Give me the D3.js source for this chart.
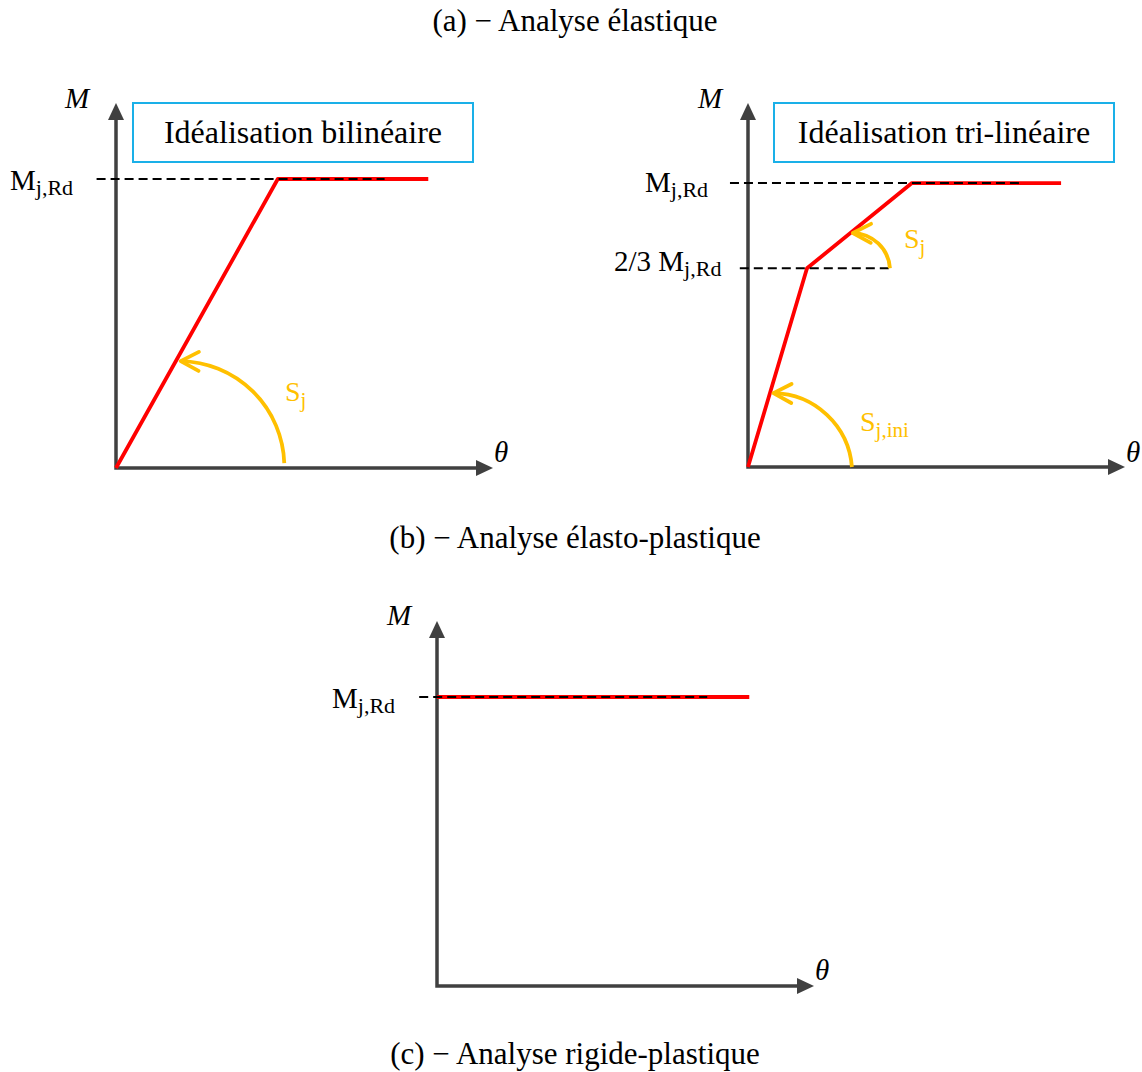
<!DOCTYPE html>
<html>
<head>
<meta charset="utf-8">
<script src="https://cdn.jsdelivr.net/npm/d3@7"></script>
<style>
  body { margin: 0; background: #fff; }
  svg { display: block; font-family: "Liberation Serif", "Times New Roman", serif; }
</style>
</head>
<body>
<svg id="viz" width="1142" height="1072"></svg>
<script>
// ---- data (theta and M in normalised units, M_j,Rd = 1) ----
var titles = ["(a) \u2212 Analyse élastique", "(b) \u2212 Analyse élasto-plastique", "(c) \u2212 Analyse rigide-plastique"];
var boxLabels = ["Idéalisation bilinéaire", "Idéalisation tri-linéaire", null];
var levelLabels = [["M", "j,Rd"], ["2/3 M", "j,Rd"]];

var bilinear = [[0, 0], [1, 1], [1.93, 1]];
var trilinear = [[0, 0], [0.36, 0.70], [1, 1], [1.91, 1]];
var rigidPlastic = [[0, 1], [1.93, 1]];

// dashed reference levels: [M, theta start, theta end]
var levelsA = [[1, -0.12, 1.66]];
var levelsB = [[1, -0.11, 1.66], [0.70, -0.05, 0.88]];
var levelsC = [[1, -0.11, 1.67]];

// stiffness arcs: [theta start, M start, theta end, M end, label, subscript]
var arcsA = [[1.04, 0.017, 0.40, 0.37, "S", "j"]];
var arcsB = [[0.866, 0.70, 0.64, 0.824, "S", "j"], [0.634, 0, 0.155, 0.26, "S", "j,ini"]];

// axis extents [theta max, M max]
var axisMax = [[2.33, 1.263], [2.30, 1.282], [2.33, 1.263]];

var svg = d3.select("#viz");
var axisColor = "#404040", red = "#ff0000", gold = "#ffc000", blue = "#1ab0e8";

svg.append("defs").append("marker")
	.attr("id", "chev")
	.attr("markerUnits", "userSpaceOnUse")
	.attr("orient", "auto")
	.attr("overflow", "visible")
	.attr("markerWidth", 24).attr("markerHeight", 24)
	.append("path")
	.attr("d", "M-18,-9.5 L0,0 L-18,9.5")
	.attr("fill", "none")
	.attr("stroke", gold)
	.attr("stroke-width", 3.8)
	.attr("stroke-linecap", "round")
	.attr("stroke-linejoin", "round");

var panels = [
	{ ox: 116, oy: 468, w: 377, h: 365, curve: bilinear, levels: levelsA, arcs: arcsA,
	  box: [133, 103, 340, 59], mLab: [65, 108], thLab: [494, 462],
	  lvlPos: [[10, 190]], arcLab: [[285, 401]] },
	{ ox: 748, oy: 467, w: 377, h: 364, curve: trilinear, levels: levelsB, arcs: arcsB,
	  box: [774, 103, 340, 59], mLab: [698, 108], thLab: [1126, 462],
	  lvlPos: [[645, 192], [614, 271]], arcLab: [[904, 248], [860, 431]] },
	{ ox: 437, oy: 986, w: 377, h: 365, curve: rigidPlastic, levels: levelsC, arcs: [],
	  box: null, mLab: [387, 625], thLab: [815, 980],
	  lvlPos: [[332, 708]], arcLab: [] }
];

var titleY = [31, 548, 1064];

svg.selectAll(".title")
	.data(titles)
	.enter().append("text")
	.attr("class", "title")
	.attr("x", 575)
	.attr("y", function(d, i) { return titleY[i]; })
	.attr("text-anchor", "middle")
	.attr("font-size", 31)
	.text(function(d) { return d; });

panels.forEach(function(p, i) {
	var g = svg.append("g");
	var x = d3.scaleLinear().domain([0, axisMax[i][0]]).range([p.ox, p.ox + p.w]);
	var y = d3.scaleLinear().domain([0, axisMax[i][1]]).range([p.oy, p.oy - p.h]);

	/* axes with arrow heads */
	var top = y(axisMax[i][1]), right = x(axisMax[i][0]);
	g.append("path")
		.attr("d", "M" + x(0) + "," + (top + 12) + "V" + y(0) + "H" + (right - 12))
		.attr("fill", "none")
		.attr("stroke", axisColor)
		.attr("stroke-width", 3.5);
	g.append("path")
		.attr("d", "M" + x(0) + "," + top + "L" + (x(0) - 8) + "," + (top + 17) + "L" + (x(0) + 8) + "," + (top + 17) + "Z")
		.attr("fill", axisColor);
	g.append("path")
		.attr("d", "M" + right + "," + y(0) + "L" + (right - 17) + "," + (y(0) - 8) + "L" + (right - 17) + "," + (y(0) + 8) + "Z")
		.attr("fill", axisColor);

	g.append("text").attr("x", p.mLab[0]).attr("y", p.mLab[1])
		.attr("font-size", 29).attr("font-style", "italic").text("M");
	g.append("text").attr("x", p.thLab[0]).attr("y", p.thLab[1])
		.attr("font-size", 29).attr("font-style", "italic").text("\u03b8");

	/* idealisation box */
	if (p.box) {
		g.append("rect")
			.attr("x", p.box[0]).attr("y", p.box[1])
			.attr("width", p.box[2]).attr("height", p.box[3])
			.attr("fill", "none").attr("stroke", blue).attr("stroke-width", 2);
		g.append("text")
			.attr("x", p.box[0] + p.box[2] / 2)
			.attr("y", p.box[1] + 40)
			.attr("text-anchor", "middle")
			.attr("font-size", 32)
			.text(boxLabels[i]);
	}

	/* moment-rotation curve */
	var line = d3.line().x(function(d) { return x(d[0]); }).y(function(d) { return y(d[1]); });
	g.append("path")
		.datum(p.curve)
		.attr("d", line)
		.attr("fill", "none")
		.attr("stroke", red)
		.attr("stroke-width", 3.8)
		.attr("stroke-linejoin", "round");

	/* dashed levels and their labels */
	p.levels.forEach(function(l, j) {
		g.append("line")
			.attr("x1", x(l[1])).attr("x2", x(l[2]))
			.attr("y1", y(l[0])).attr("y2", y(l[0]))
			.attr("stroke", "#000")
			.attr("stroke-width", 2)
			.attr("stroke-dasharray", "9,5");
		var t = g.append("text")
			.attr("x", p.lvlPos[j][0]).attr("y", p.lvlPos[j][1])
			.attr("font-size", 29);
		t.append("tspan").text(levelLabels[j][0]);
		t.append("tspan").attr("font-size", 22).attr("dy", 5).text(levelLabels[j][1]);
	});

	/* stiffness arcs */
	p.arcs.forEach(function(a, j) {
		var x0 = x(a[0]), y0 = y(a[1]), x1 = x(a[2]), y1 = y(a[3]);
		var r = Math.max(Math.abs(x1 - x0), Math.abs(y1 - y0)) * 1.02;
		g.append("path")
			.attr("d", "M" + x0 + "," + y0 + "A" + r + "," + r + " 0 0 0 " + x1 + "," + y1)
			.attr("fill", "none")
			.attr("stroke", gold)
			.attr("stroke-width", 3.8)
			.attr("marker-end", "url(#chev)");
		var t = g.append("text")
			.attr("x", p.arcLab[j][0]).attr("y", p.arcLab[j][1])
			.attr("font-size", 28)
			.attr("fill", gold);
		t.append("tspan").text(a[4]);
		t.append("tspan").attr("font-size", 21).attr("dy", 6).text(a[5]);
	});
});
</script>
</body>
</html>
